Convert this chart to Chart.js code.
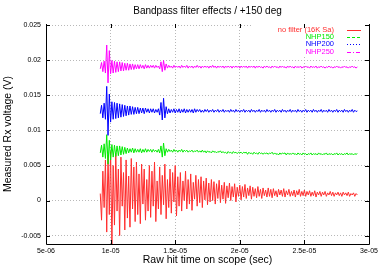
<!DOCTYPE html>
<html>
<head>
<meta charset="utf-8">
<script src="https://cdn.jsdelivr.net/npm/chart.js@4.4.0/dist/chart.umd.min.js"></script>
<style>
  html, body { margin: 0; padding: 0; background: #fff; }
  #wrap { width: 382px; height: 267px; }
</style>
</head>
<body>
<div id="wrap"><canvas id="chart" width="382" height="267"></canvas></div>
<script>
// scope capture: first sample time and sample interval (sec)
const sampleStart = 9.2e-6;
const sampleStep = 1e-7;

const seriesNames = ['no filter (16K Sa)', 'NHP150', 'NHP200', 'NHP250'];
const seriesColors = ['rgb(255,45,45)', 'rgb(0,235,0)', 'rgb(0,0,255)', 'rgb(255,0,255)'];

const xTicks = [5e-6, 1e-5, 1.5e-5, 2e-5, 2.5e-5, 3e-5];
const xTickLabels = ['5e-06', '1e-05', '1.5e-05', '2e-05', '2.5e-05', '3e-05'];
const yTicks = [-0.005, 0, 0.005, 0.01, 0.015, 0.02, 0.025];
const yTickLabels = ['-0.005', '0', '0.005', '0.01', '0.015', '0.02', '0.025'];

// measured voltages (V)
const noFilter = [
  0.0010, -0.0028, 0.0042, -0.0010, 0.0058, -0.0045, 0.0065, -0.0020, 0.0070, -0.0062,
  0.0050, -0.0035, 0.0068, -0.0015, 0.0045, -0.0050, 0.0062, -0.0008, 0.0040, -0.0042,
  0.0058, -0.0025, 0.0035, -0.0038, 0.0060, -0.0012, 0.0048, -0.0030, 0.0055, -0.0020,
  0.0038, -0.0033, 0.0052, -0.0005, 0.0045, -0.0028, 0.0030, -0.0015, 0.0050, -0.0024,
  0.0042, -0.0008, 0.0055, -0.0030, 0.0028, -0.0012, 0.0048, -0.0020, 0.0036, -0.0006,
  0.0052, -0.0026, 0.0030, -0.0010, 0.0045, -0.0018, 0.0040, -0.0002, 0.0050, -0.0022,
  0.0034, -0.0008, 0.0040, -0.0015, 0.0028, 0.0000, 0.0042, -0.0012, 0.0030, -0.0005,
  0.0038, -0.0014, 0.0026, 0.0002, 0.0036, -0.0008, 0.0030, -0.0003, 0.0034, -0.0010,
  0.0028, 0.0001, 0.0032, -0.0006, 0.0025, -0.0002, 0.0030, 0.0000, 0.0027, -0.0005,
  0.0024, 0.0003, 0.0029, -0.0003, 0.0022, 0.0002, 0.0026, -0.0004, 0.0021, 0.0004,
  0.0025, 0.0000, 0.0020, 0.0005, 0.0024, -0.0002, 0.0019, 0.0006, 0.0022, 0.0001,
  0.0020, 0.0005, 0.0023, 0.0003, 0.0018, 0.0007, 0.0021, 0.0002, 0.0019, 0.0006,
  0.0017, 0.0004, 0.0020, 0.0006, 0.0016, 0.0003, 0.0018, 0.0007, 0.0015, 0.0005,
  0.0018, 0.0006, 0.0016, 0.0004, 0.0017, 0.0007, 0.0014, 0.0005, 0.0016, 0.0008,
  0.0015, 0.0006, 0.0017, 0.0005, 0.0014, 0.0008, 0.0016, 0.0006, 0.0013, 0.0007,
  0.0015, 0.0005, 0.0014, 0.0008, 0.0016, 0.0006, 0.0013, 0.0007, 0.0015, 0.0006,
  0.0013, 0.0008, 0.0014, 0.0006, 0.0012, 0.0007, 0.0014, 0.0005, 0.0012, 0.0008,
  0.0013, 0.0006, 0.0012, 0.0008, 0.0013, 0.0006, 0.0011, 0.0008, 0.0013, 0.0007,
  0.0012, 0.0006, 0.0011, 0.0008, 0.0012, 0.0007, 0.0011, 0.0006, 0.0012, 0.0008,
  0.0011, 0.0007, 0.0012, 0.0006, 0.0010, 0.0008, 0.0011, 0.0006, 0.0010, 0.0008
];

const nhp150 = [
  0.0068, 0.0079, 0.0062, 0.0081, 0.0060, 0.0094, 0.0052, 0.0086, 0.0058, 0.0080,
  0.0062, 0.0079, 0.0063, 0.0078, 0.0064, 0.0078, 0.0065, 0.0077, 0.0066, 0.0076,
  0.0067, 0.0075, 0.0068, 0.0074, 0.0069, 0.0075, 0.0068, 0.0074, 0.0069, 0.0073,
  0.0069, 0.0074, 0.0068, 0.0073, 0.0069, 0.0074, 0.0069, 0.0073, 0.0070, 0.0073,
  0.0069, 0.0073, 0.0070, 0.0072, 0.0069, 0.0073, 0.0068, 0.0078, 0.0062, 0.0082,
  0.0064, 0.0074, 0.0069, 0.0073, 0.0070, 0.0072, 0.0069, 0.0073, 0.0070, 0.0072,
  0.0069, 0.0072, 0.0070, 0.0073, 0.0069, 0.0072, 0.0070, 0.0072, 0.0069, 0.0071,
  0.0070, 0.0072, 0.0069, 0.0071, 0.0070, 0.0072, 0.0069, 0.0071, 0.0069, 0.0072,
  0.0069, 0.0071, 0.0068, 0.0071, 0.0069, 0.0070, 0.0068, 0.0071, 0.0069, 0.0070,
  0.0068, 0.0070, 0.0069, 0.0071, 0.0068, 0.0070, 0.0068, 0.0069, 0.0067, 0.0070,
  0.0068, 0.0069, 0.0067, 0.0070, 0.0068, 0.0069, 0.0067, 0.0069, 0.0068, 0.0069,
  0.0067, 0.0069, 0.0068, 0.0069, 0.0066, 0.0069, 0.0067, 0.0068, 0.0066, 0.0069,
  0.0067, 0.0068, 0.0066, 0.0069, 0.0067, 0.0068, 0.0066, 0.0068, 0.0067, 0.0068,
  0.0066, 0.0068, 0.0067, 0.0069, 0.0066, 0.0068, 0.0066, 0.0067, 0.0065, 0.0068,
  0.0066, 0.0068, 0.0067, 0.0068, 0.0065, 0.0068, 0.0066, 0.0067, 0.0066, 0.0068,
  0.0066, 0.0067, 0.0065, 0.0068, 0.0066, 0.0067, 0.0065, 0.0068, 0.0066, 0.0067,
  0.0065, 0.0067, 0.0066, 0.0068, 0.0065, 0.0067, 0.0066, 0.0067, 0.0065, 0.0068,
  0.0066, 0.0067, 0.0065, 0.0067, 0.0066, 0.0068, 0.0065, 0.0067, 0.0066, 0.0067,
  0.0065, 0.0067, 0.0066, 0.0068, 0.0065, 0.0067, 0.0066, 0.0067, 0.0065, 0.0067,
  0.0066, 0.0068, 0.0065, 0.0067, 0.0066, 0.0067, 0.0065, 0.0067, 0.0066, 0.0067
];

const nhp200 = [
  0.0124, 0.0136, 0.0118, 0.0139, 0.0116, 0.0163, 0.0093, 0.0152, 0.0112, 0.0141,
  0.0116, 0.0140, 0.0117, 0.0139, 0.0118, 0.0138, 0.0119, 0.0137, 0.0120, 0.0136,
  0.0121, 0.0135, 0.0122, 0.0135, 0.0123, 0.0134, 0.0123, 0.0133, 0.0124, 0.0133,
  0.0124, 0.0132, 0.0125, 0.0132, 0.0124, 0.0132, 0.0126, 0.0131, 0.0125, 0.0131,
  0.0126, 0.0131, 0.0125, 0.0130, 0.0126, 0.0131, 0.0122, 0.0140, 0.0115, 0.0146,
  0.0118, 0.0134, 0.0124, 0.0131, 0.0125, 0.0130, 0.0126, 0.0131, 0.0125, 0.0130,
  0.0126, 0.0131, 0.0125, 0.0130, 0.0126, 0.0131, 0.0125, 0.0130, 0.0126, 0.0130,
  0.0126, 0.0130, 0.0125, 0.0131, 0.0126, 0.0130, 0.0127, 0.0130, 0.0126, 0.0129,
  0.0126, 0.0130, 0.0127, 0.0130, 0.0126, 0.0129, 0.0127, 0.0130, 0.0126, 0.0129,
  0.0127, 0.0130, 0.0126, 0.0129, 0.0127, 0.0130, 0.0126, 0.0129, 0.0127, 0.0129,
  0.0126, 0.0130, 0.0127, 0.0129, 0.0126, 0.0130, 0.0127, 0.0129, 0.0126, 0.0129,
  0.0127, 0.0130, 0.0126, 0.0129, 0.0127, 0.0129, 0.0126, 0.0130, 0.0127, 0.0129,
  0.0126, 0.0129, 0.0127, 0.0130, 0.0126, 0.0129, 0.0127, 0.0129, 0.0126, 0.0130,
  0.0127, 0.0129, 0.0126, 0.0129, 0.0127, 0.0130, 0.0126, 0.0129, 0.0127, 0.0129,
  0.0126, 0.0130, 0.0127, 0.0129, 0.0126, 0.0129, 0.0127, 0.0130, 0.0126, 0.0129,
  0.0127, 0.0129, 0.0126, 0.0130, 0.0127, 0.0129, 0.0126, 0.0129, 0.0127, 0.0130,
  0.0126, 0.0129, 0.0127, 0.0129, 0.0126, 0.0130, 0.0127, 0.0129, 0.0126, 0.0129,
  0.0127, 0.0130, 0.0126, 0.0129, 0.0127, 0.0129, 0.0126, 0.0130, 0.0127, 0.0129,
  0.0126, 0.0129, 0.0127, 0.0130, 0.0126, 0.0129, 0.0127, 0.0129, 0.0126, 0.0130,
  0.0127, 0.0129, 0.0126, 0.0129, 0.0127, 0.0130, 0.0126, 0.0129, 0.0127, 0.0128
];

const nhp250 = [
  0.0188, 0.0197, 0.0184, 0.0199, 0.0182, 0.0222, 0.0168, 0.0214, 0.0181, 0.0200,
  0.0182, 0.0199, 0.0183, 0.0198, 0.0184, 0.0198, 0.0185, 0.0197, 0.0185, 0.0196,
  0.0186, 0.0196, 0.0186, 0.0195, 0.0187, 0.0195, 0.0187, 0.0194, 0.0188, 0.0194,
  0.0188, 0.0194, 0.0189, 0.0193, 0.0188, 0.0194, 0.0189, 0.0193, 0.0189, 0.0193,
  0.0190, 0.0193, 0.0189, 0.0193, 0.0190, 0.0192, 0.0188, 0.0198, 0.0184, 0.0200,
  0.0186, 0.0195, 0.0189, 0.0193, 0.0190, 0.0192, 0.0189, 0.0193, 0.0190, 0.0192,
  0.0190, 0.0192, 0.0189, 0.0193, 0.0190, 0.0192, 0.0190, 0.0193, 0.0189, 0.0192,
  0.0190, 0.0192, 0.0189, 0.0192, 0.0190, 0.0193, 0.0190, 0.0192, 0.0189, 0.0192,
  0.0190, 0.0192, 0.0190, 0.0192, 0.0189, 0.0192, 0.0190, 0.0193, 0.0190, 0.0192,
  0.0189, 0.0192, 0.0190, 0.0192, 0.0190, 0.0192, 0.0189, 0.0192, 0.0190, 0.0192,
  0.0190, 0.0192, 0.0189, 0.0192, 0.0190, 0.0192, 0.0190, 0.0192, 0.0189, 0.0192,
  0.0190, 0.0192, 0.0190, 0.0192, 0.0189, 0.0192, 0.0190, 0.0192, 0.0190, 0.0192,
  0.0189, 0.0192, 0.0190, 0.0192, 0.0190, 0.0191, 0.0189, 0.0192, 0.0190, 0.0192,
  0.0190, 0.0191, 0.0189, 0.0192, 0.0190, 0.0192, 0.0190, 0.0191, 0.0189, 0.0192,
  0.0190, 0.0192, 0.0190, 0.0191, 0.0189, 0.0192, 0.0190, 0.0192, 0.0190, 0.0191,
  0.0189, 0.0192, 0.0190, 0.0191, 0.0190, 0.0192, 0.0189, 0.0191, 0.0190, 0.0192,
  0.0190, 0.0191, 0.0189, 0.0192, 0.0190, 0.0191, 0.0190, 0.0192, 0.0189, 0.0191,
  0.0190, 0.0192, 0.0190, 0.0191, 0.0189, 0.0191, 0.0190, 0.0192, 0.0190, 0.0191,
  0.0189, 0.0191, 0.0190, 0.0192, 0.0190, 0.0191, 0.0189, 0.0191, 0.0190, 0.0192,
  0.0190, 0.0191, 0.0189, 0.0191, 0.0190, 0.0192, 0.0190, 0.0191, 0.0189, 0.0191
];

const FONT = '"Liberation Sans", Arial, sans-serif';

function toPoints(values) {
  return values.map((v, i) => ({ x: sampleStart + i * sampleStep, y: v }));
}

// gnuplot style frame: borders, inward ticks, titles and key
const framePlugin = {
  id: 'frame',
  beforeDatasetsDraw(chart) {
    const { ctx, chartArea: a } = chart;
    // key box hides the grid behind it
    ctx.save();
    ctx.fillStyle = '#fff';
    ctx.fillRect(253, a.top - 1, a.right - 253 - 1, 32);
    ctx.restore();
  },
  afterDraw(chart) {
    const { ctx, chartArea: a, scales } = chart;
    ctx.save();
    ctx.strokeStyle = '#000';
    ctx.lineWidth = 1;
    ctx.beginPath();
    ctx.moveTo(a.left + 0.5, a.top);
    ctx.lineTo(a.left + 0.5, a.bottom + 0.5);
    ctx.lineTo(a.right + 0.5, a.bottom + 0.5);
    ctx.lineTo(a.right + 0.5, a.top);
    for (const v of xTicks) {
      const px = Math.round(scales.x.getPixelForValue(v)) + 0.5;
      ctx.moveTo(px, a.bottom);
      ctx.lineTo(px, a.bottom - 4);
      ctx.moveTo(px, a.top);
      ctx.lineTo(px, a.top + 4);
    }
    for (const v of yTicks) {
      const py = Math.round(scales.y.getPixelForValue(v)) + 0.5;
      ctx.moveTo(a.left, py);
      ctx.lineTo(a.left + 4, py);
      ctx.moveTo(a.right, py);
      ctx.lineTo(a.right - 4, py);
    }
    ctx.stroke();

    const midX = (a.left + a.right) / 2;
    ctx.fillStyle = '#000';
    ctx.textAlign = 'center';
    ctx.textBaseline = 'middle';
    ctx.font = '10px ' + FONT;
    ctx.fillText('Bandpass filter effects / +150 deg', midX, 11);
    ctx.font = '10.5px ' + FONT;
    ctx.fillText('Raw hit time on scope (sec)', midX, 260);
    ctx.save();
    ctx.translate(8, (a.top + a.bottom) / 2);
    ctx.rotate(-Math.PI / 2);
    ctx.fillText('Measured Rx voltage (V)', 0, 0);
    ctx.restore();

    // key
    const dashes = [[], [3, 2], [1, 2], [4, 2, 1, 2]];
    ctx.font = '7.5px ' + FONT;
    ctx.textAlign = 'right';
    seriesNames.forEach((name, i) => {
      const y = 29.5 + i * 7.4;
      ctx.fillStyle = seriesColors[i];
      ctx.fillText(name, 334, y);
      ctx.strokeStyle = seriesColors[i];
      ctx.setLineDash(dashes[i]);
      ctx.beginPath();
      ctx.moveTo(347, Math.round(y) + 0.5);
      ctx.lineTo(361, Math.round(y) + 0.5);
      ctx.stroke();
    });
    ctx.restore();
  }
};

const allSeries = [noFilter, nhp150, nhp200, nhp250];

new Chart(document.getElementById('chart'), {
  type: 'line',
  data: {
    datasets: allSeries.map((values, i) => ({
      label: seriesNames[i],
      data: toPoints(values),
      borderColor: seriesColors[i],
      borderWidth: 1,
      pointRadius: 0,
      tension: 0,
      fill: false,
      order: allSeries.length - i
    }))
  },
  options: {
    responsive: false,
    animation: false,
    events: [],
    layout: { padding: { left: 0, right: 13, top: 24, bottom: 0 } },
    plugins: {
      legend: { display: false },
      tooltip: { enabled: false },
      title: { display: false }
    },
    scales: {
      x: {
        type: 'linear',
        min: 5e-6,
        max: 3e-5,
        afterBuildTicks: s => { s.ticks = xTicks.map(v => ({ value: v })); },
        afterFit: s => { s.height = 23; },
        ticks: {
          callback: (v, i) => xTickLabels[i],
          font: { family: FONT, size: 7 },
          color: '#000',
          padding: 3,
          maxRotation: 0,
          autoSkip: false
        },
        grid: { color: '#b8b8b8', drawTicks: false },
        border: { display: false, dash: [1, 2] }
      },
      y: {
        type: 'linear',
        min: -0.0062,
        max: 0.0252,
        afterBuildTicks: s => { s.ticks = yTicks.map(v => ({ value: v })); },
        afterFit: s => { s.width = 46; },
        ticks: {
          callback: (v, i) => yTickLabels[i],
          font: { family: FONT, size: 7 },
          color: '#000',
          padding: 5,
          autoSkip: false
        },
        grid: { color: '#b8b8b8', drawTicks: false },
        border: { display: false, dash: [1, 2] }
      }
    }
  },
  plugins: [framePlugin]
});
</script>
</body>
</html>
